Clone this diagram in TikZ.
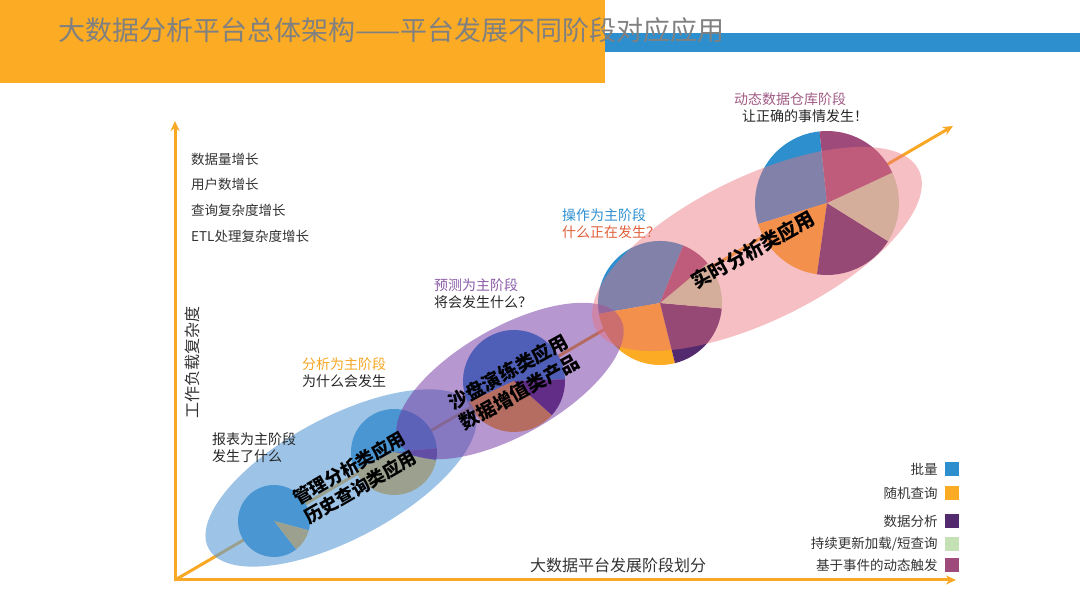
\documentclass[tikz,border=0pt]{standalone}
\usepackage{fontspec}
\setmainfont{Noto Sans CJK SC}
\usetikzlibrary{arrows.meta,positioning}
\definecolor{barorange}{HTML}{FBAC24}
\definecolor{barblue}{HTML}{2E8FCF}
\definecolor{axisorange}{HTML}{F9A825}
\definecolor{batch}{HTML}{2E8FCF}
\definecolor{adhoc}{HTML}{FBAC24}
\definecolor{mining}{HTML}{532A6E}
\definecolor{trickle}{HTML}{C5E0B4}
\definecolor{event}{HTML}{9E4A7A}
\definecolor{ellblue}{HTML}{5B9BD5}
\definecolor{ellpurple}{HTML}{7030A0}
\definecolor{ellpink}{HTML}{E9707D}
\definecolor{stgorange}{HTML}{F6A623}
\definecolor{stgpurple}{HTML}{8A5BA8}
\definecolor{stgred}{HTML}{E0603A}
\definecolor{stgmauve}{HTML}{A05A84}
\newcommand{\pieslice}[5]{\fill[#5](#1)--++(#3:#2)arc[start angle=#3,end angle=#4,radius=#2]--cycle;}

\begin{document}
\begin{tikzpicture}[x=1pt,y=1pt,font=\fontsize{13.5}{16}\selectfont,
 ax/.style={line width=3pt,axisorange},
 axtip/.tip={Stealth[length=10pt,width=9pt]},
 lbl/.style={anchor=west,inner sep=0pt,text=black!80},
 stg/.style={anchor=west,inner sep=0pt,align=left,text=black!85,font=\fontsize{14}{17}\selectfont},
 app/.style={align=center,inner sep=0pt,text=black},
 leg/.style={inner sep=0pt,text=black!80,font=\fontsize{13.5}{16}\selectfont},
 key/.style={minimum size=14pt,inner sep=0pt}]
\useasboundingbox (0,0) rectangle (1080,608);
% title bar
\fill[barorange] (0,525) rectangle (605,608);
\fill[barblue] (605,556) rectangle (1080,575);
\node[anchor=west,inner sep=0pt,text=black!50,font=\fontsize{27}{31}\selectfont] (title) at (58,578) {大数据分析平台总体架构——平台发展不同阶段对应应用};
% axes
\coordinate (o) at (175,28);
\coordinate (ytip) at (175,487);
\coordinate (xtip) at (956,28);
\coordinate (dtip) at (953,482);
\draw[ax,axtip-axtip] (ytip)--(o)--(xtip);
\draw[ax,-axtip] (o)--(dtip);
\node[lbl,rotate=90,anchor=center,font=\fontsize{16}{18}\selectfont] (ylab) at (192,245) {工作负载复杂度};
\node[lbl,anchor=center,font=\fontsize{16}{18}\selectfont] (xlab) at (618,43) {大数据平台发展阶段划分};
% growth list
\node[lbl] (g1) at (191,449) {数据量增长};
\node[lbl,below=25.7pt of g1.west,anchor=west] (g2) {用户数增长};
\node[lbl,below=25.7pt of g2.west,anchor=west] (g3) {查询复杂度增长};
\node[lbl,below=25.7pt of g3.west,anchor=west] (g4) {ETL处理复杂度增长};
% pies
\coordinate (p1) at (274,87);
\coordinate (p2) at (394,156);
\coordinate (p3) at (514,227);
\coordinate (p4) at (660,305);
\coordinate (p5) at (827,405);
\pieslice{p1}{36}{-15}{308}{batch}
\pieslice{p1}{36}{308}{345}{adhoc}
\pieslice{p2}{43}{5}{205}{batch}
\pieslice{p2}{43}{205}{349}{adhoc}
\pieslice{p2}{43}{349}{365}{mining}
\pieslice{p3}{51}{2}{205}{batch}
\pieslice{p3}{51}{205}{318}{adhoc}
\pieslice{p3}{51}{318}{362}{mining}
\pieslice{p4}{62}{68}{190}{batch}
\pieslice{p4}{62}{190}{284}{adhoc}
\pieslice{p4}{62}{284}{355}{mining}
\pieslice{p4}{62}{355}{400}{trickle}
\pieslice{p4}{62}{400}{428}{event}
\pieslice{p5}{72}{96}{197}{batch}
\pieslice{p5}{72}{197}{262}{adhoc}
\pieslice{p5}{72}{262}{328}{mining}
\pieslice{p5}{72}{328}{385}{trickle}
\pieslice{p5}{72}{385}{456}{event}
% stage areas
\coordinate (e1) at (341,130);
\coordinate (e2) at (510,227);
\coordinate (e3) at (757,359);
\fill[ellblue,opacity=.6,rotate around={28:(e1)}] (e1) ellipse[x radius=150,y radius=61];
\fill[ellpurple,opacity=.5,rotate around={29.5:(e2)}] (e2) ellipse[x radius=127,y radius=54];
\fill[ellpink,opacity=.45,rotate around={26:(e3)}] (e3) ellipse[x radius=180,y radius=72];
\node[app,rotate=30,font=\fontsize{18}{22}\bfseries\selectfont] (hist) at (355,130) {管理分析类应用\\历史查询类应用};
\node[app,rotate=29,font=\fontsize{19}{23}\bfseries\selectfont] (sand) at (514,226) {沙盘演练类应用\\数据增值类产品};
\node[app,rotate=29,font=\fontsize{19.5}{23}\bfseries\selectfont] (rt) at (753,358) {实时分析类应用};
% stage labels
\node[stg] (s1) at (212,160) {报表为主阶段\\发生了什么};
\node[stg] (s2) at (302,235) {{\color{stgorange}分析为主阶段}\\为什么会发生};
\node[stg] (s3) at (434,314) {{\color{stgpurple}预测为主阶段}\\将会发生什么？};
\node[stg] (s4) at (562,384) {{\color{barblue}操作为主阶段}\\{\color{stgred}什么正在发生？}};
\node[stg] (s5) at (734,500) {{\color{stgmauve}动态数据仓库阶段}\\\hspace{8pt}让正确的事情发生！};
% legend
\node[key,fill=batch] (k1) at (952,139) {};
\node[key,fill=adhoc] (k2) at (952,115) {};
\node[key,fill=mining] (k3) at (952,87) {};
\node[key,fill=trickle] (k4) at (952,64) {};
\node[key,fill=event] (k5) at (952,43) {};
\node[leg,left=7pt of k1] (t1) {批量};
\node[leg,left=7pt of k2] (t2) {随机查询};
\node[leg,left=7pt of k3] (t3) {数据分析};
\node[leg,left=7pt of k4] (t4) {持续更新加载/短查询};
\node[leg,left=7pt of k5] (t5) {基于事件的动态触发};
\end{tikzpicture}
\end{document}
